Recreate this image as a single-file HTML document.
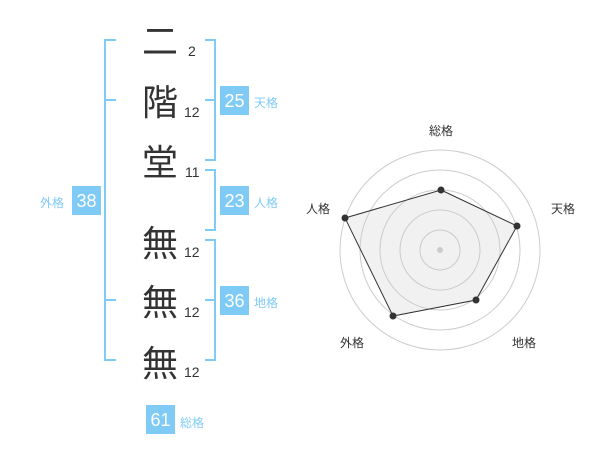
<!DOCTYPE html>
<html><head><meta charset="utf-8"><style>
body{margin:0;background:#fff;width:600px;height:470px;overflow:hidden}
</style></head><body>
<svg width="600" height="470" xmlns="http://www.w3.org/2000/svg" font-family="Liberation Sans, Noto Sans CJK JP, sans-serif">
<g stroke="#7fcbf5" stroke-width="2" fill="none">
<path d="M116 40H105V360H116M105 100H116M105 300H116"/>
<path d="M205 40H215V160H205M205 100H215"/>
<path d="M205 170H215V230H205"/>
<path d="M205 240H215V360H205M205 300H215"/>
</g>
<g fill="#333" font-size="36">
<text x="142" y="54">二</text>
<text x="142" y="115">階</text>
<text x="142" y="175">堂</text>
<text x="142" y="256">無</text>
<text x="142" y="315">無</text>
<text x="142" y="376">無</text>
</g>
<g fill="#333" font-size="14">
<text x="188" y="56">2</text>
<text x="184" y="117">12</text>
<text x="185" y="177">11</text>
<text x="184" y="257">12</text>
<text x="184" y="317">12</text>
<text x="184" y="377">12</text>
</g>
<g fill="#7fcbf5">
<rect x="220" y="86" width="29" height="29"/>
<rect x="220" y="186" width="29" height="29"/>
<rect x="220" y="286" width="29" height="29"/>
<rect x="72" y="186" width="29" height="29"/>
<rect x="146" y="405" width="29" height="29"/>
</g>
<g fill="#fff" font-size="18" text-anchor="middle">
<text x="234.5" y="107">25</text>
<text x="234.5" y="207">23</text>
<text x="234.5" y="307">36</text>
<text x="86.5" y="207">38</text>
<text x="160.5" y="426">61</text>
</g>
<g fill="#7fcbf5" font-size="12">
<text x="254" y="107">天格</text>
<text x="254" y="207">人格</text>
<text x="254" y="307">地格</text>
<text x="40" y="207">外格</text>
<text x="180" y="427">総格</text>
</g>
<g fill="none" stroke="#ccc" stroke-width="1">
<circle cx="440" cy="250" r="20"/><circle cx="440" cy="250" r="40"/>
<circle cx="440" cy="250" r="60"/><circle cx="440" cy="250" r="80"/>
<circle cx="440" cy="250" r="100"/>
</g>
<circle cx="440" cy="250" r="3" fill="#ccc"/>
<polygon points="441,190 517,226 476,300 393,316 345,218" fill="rgba(200,200,200,0.25)" stroke="#333" stroke-width="1"/>
<g fill="#333">
<circle cx="441" cy="190" r="3.5"/><circle cx="517" cy="226" r="3.5"/>
<circle cx="476" cy="300" r="3.5"/><circle cx="393" cy="316" r="3.5"/>
<circle cx="345" cy="218" r="3.5"/>
</g>
<g fill="#333" font-size="12" text-anchor="middle">
<text x="441" y="135">総格</text>
<text x="563" y="213">天格</text>
<text x="524" y="347">地格</text>
<text x="352" y="347">外格</text>
<text x="318" y="213">人格</text>
</g>
</svg>
</body></html>
